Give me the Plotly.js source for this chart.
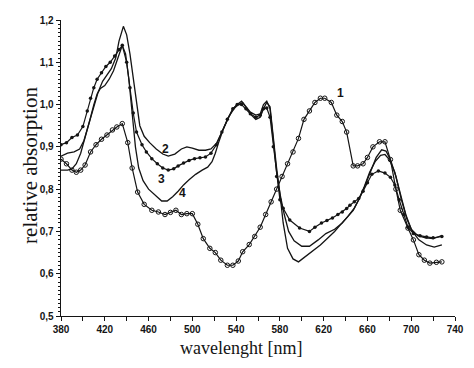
<!DOCTYPE html>
<html>
<head>
<meta charset="utf-8">
<script src="https://cdn.plot.ly/plotly-3.0.1.min.js"></script>
<style>html,body{margin:0;padding:0;background:#fff;}#chart{width:474px;height:368px;}</style>
</head>
<body>
<div id="chart"></div>
<script>
// Curve 1 (open circles)
const wl1 = [380,385,390,394,398,402,407,412,417,422,427,431,436,441,445,450,456,463,469,475,480,485,490,495,500,505,510,516,521,526,532,537,542,546,552,557,562,567,572,577,582,587,592,597,602,607,612,617,621,627,632,637,641,647,651,656,660,665,671,676,681,686,690,697,702,707,712,717,723,728];
const ab1 = [0.871,0.86,0.845,0.84,0.845,0.857,0.888,0.905,0.918,0.928,0.94,0.947,0.955,0.91,0.85,0.793,0.764,0.75,0.746,0.74,0.745,0.75,0.74,0.742,0.742,0.717,0.683,0.66,0.65,0.632,0.62,0.62,0.63,0.652,0.669,0.688,0.71,0.74,0.77,0.80,0.83,0.86,0.888,0.92,0.965,0.985,1.005,1.015,1.015,1.005,0.975,0.96,0.935,0.855,0.855,0.86,0.875,0.9,0.912,0.912,0.87,0.80,0.75,0.708,0.68,0.645,0.632,0.625,0.627,0.628];

// Curve 2 (solid line)
const wl2 = [380,386,392,397,401,405,408,411,414,418,422,426,430,433,437,440,443,446,449,452,456,461,467,473,478,484,490,495,500,506,512,517,522,527,532,537,541,545,549,553,558,562,565,568,571,574,577,580,584,588,593,600,607,615,622,630,637,642,647,652,657,662,667,672,676,680,685,690,695,700,706,713,720,728];
const ab2 = [0.878,0.885,0.888,0.895,0.915,0.95,0.975,1.0,1.03,1.055,1.07,1.085,1.11,1.15,1.185,1.165,1.12,1.06,1.0,0.95,0.925,0.91,0.895,0.883,0.878,0.883,0.895,0.9,0.897,0.892,0.892,0.895,0.908,0.935,0.965,0.99,1.0,1.008,0.995,0.982,0.975,0.978,1.0,1.008,0.99,0.91,0.84,0.79,0.74,0.70,0.678,0.665,0.665,0.68,0.695,0.705,0.72,0.735,0.75,0.775,0.805,0.84,0.865,0.88,0.882,0.87,0.84,0.79,0.74,0.705,0.69,0.685,0.683,0.69];

// Curve 3 (filled dots)
const wl3 = [380,385,390,395,400,404,407,410,413,417,421,425,429,433,436,440,443,446,449,454,458,463,468,473,478,483,487,492,497,502,507,512,517,522,527,532,537,541,545,549,553,558,562,565,568,571,574,577,580,583,589,598,607,612,618,623,628,633,637,641,644,648,652,656,660,664,670,676,681,685,689,693,697,702,708,714,720,728];
const ab3 = [0.905,0.91,0.922,0.928,0.948,0.985,1.015,1.04,1.06,1.075,1.09,1.10,1.115,1.13,1.14,1.10,1.04,0.98,0.935,0.905,0.888,0.872,0.86,0.85,0.845,0.848,0.855,0.862,0.868,0.872,0.874,0.876,0.885,0.905,0.935,0.965,0.99,1.0,1.0,0.99,0.978,0.97,0.975,0.99,0.992,0.97,0.9,0.83,0.775,0.755,0.727,0.708,0.70,0.71,0.72,0.726,0.732,0.74,0.746,0.754,0.762,0.77,0.778,0.795,0.815,0.835,0.843,0.838,0.828,0.81,0.775,0.74,0.71,0.695,0.69,0.687,0.685,0.688];

// Curve 4 (solid line with shoulder)
const wl4 = [380,386,390,394,398,402,406,410,413,416,420,424,428,432,436,439,442,445,448,451,455,460,466,472,477,482,487,492,497,503,509,514,518,521,524,528,533,538,542,546,550,554,558,562,565,568,571,574,577,580,583,587,592,597,603,610,617,624,630,636,642,648,653,658,663,668,673,677,681,686,691,696,701,707,714,721,728];
const ab4 = [0.845,0.845,0.848,0.86,0.885,0.92,0.96,1.0,1.025,1.038,1.045,1.06,1.08,1.11,1.14,1.12,1.06,0.98,0.9,0.85,0.82,0.80,0.785,0.772,0.772,0.782,0.795,0.81,0.822,0.835,0.845,0.852,0.865,0.885,0.91,0.94,0.97,0.99,1.0,1.005,0.99,0.975,0.965,0.97,0.99,1.005,0.995,0.92,0.85,0.79,0.72,0.66,0.635,0.628,0.64,0.655,0.668,0.685,0.70,0.718,0.735,0.755,0.78,0.81,0.845,0.875,0.893,0.89,0.87,0.83,0.775,0.73,0.70,0.68,0.668,0.663,0.668];

const curveLabels = ["1","2","3","4"];
const labelX = [635,475.5,472,491];
const labelY = [1.027,0.895,0.825,0.79];

const yTickVals = [0.5,0.6,0.7,0.8,0.9,1.0,1.1,1.2];
const yTickText = ["0,5","0,6","0,7","0,8","0,9","1,0","1,1","1,2"];
const xTickVals = [380,400,420,440,460,480,500,520,540,560,580,600,620,640,660,680,700,720,740];
const xTickText = ["380","","420","","460","","500","","540","","580","","620","","660","","700","","740"];

const ink = "#141414";
const tickFont = {family:"Liberation Sans Narrow, Arial Narrow, Liberation Sans, sans-serif", size:10, color:ink, weight:"bold"};

const traces = [
  {x:wl1, y:ab1, mode:"lines+markers", line:{color:ink, width:1.2}, marker:{symbol:"circle-open", size:4.5, color:ink, line:{width:1, color:ink}}},
  {x:wl2, y:ab2, mode:"lines", line:{color:ink, width:1.3}},
  {x:wl3, y:ab3, mode:"lines+markers", line:{color:ink, width:1.2}, marker:{symbol:"circle", size:3.5, color:ink}},
  {x:wl4, y:ab4, mode:"lines", line:{color:ink, width:1.3}}
];

const annotations = curveLabels.map((t,i)=>({x:labelX[i], y:labelY[i], xref:"x", yref:"y", text:t, showarrow:false, font:{family:"Liberation Sans, sans-serif", size:12, color:ink, weight:"bold"}}));
annotations.push({text:"wavelenght [nm]", xref:"paper", yref:"paper", x:0.457, y:-0.108, showarrow:false, xanchor:"center", yanchor:"middle",
  font:{family:"Liberation Serif, Times New Roman, serif", size:18, color:ink}});
annotations.push({text:"relative absorption", xref:"paper", yref:"paper", x:-0.079, y:0.51, showarrow:false, textangle:-90, xanchor:"center", yanchor:"middle",
  font:{family:"Liberation Serif, Times New Roman, serif", size:21, color:ink}});

const layout = {
  width:474, height:368,
  margin:{l:61, r:19, t:20, b:52},
  paper_bgcolor:"#fff", plot_bgcolor:"#fff",
  showlegend:false,
  xaxis:{range:[380,740], tickvals:xTickVals, ticktext:xTickText, ticks:"outside", ticklen:4, tickwidth:1, tickcolor:ink,
         showline:true, linecolor:ink, linewidth:1.3, showgrid:false, zeroline:false, tickfont:tickFont},
  yaxis:{range:[0.5,1.2], tickvals:yTickVals, ticktext:yTickText, ticks:"outside", ticklen:4, tickwidth:1, tickcolor:ink,
         minor:{dtick:0.01, ticks:"outside", ticklen:2, tickcolor:ink, tickwidth:1, showgrid:false},
         showline:true, linecolor:ink, linewidth:1.3, showgrid:false, zeroline:false, tickfont:tickFont},
  annotations:annotations
};

Plotly.newPlot("chart", traces, layout, {displayModeBar:false, staticPlot:true});
</script>
</body>
</html>
